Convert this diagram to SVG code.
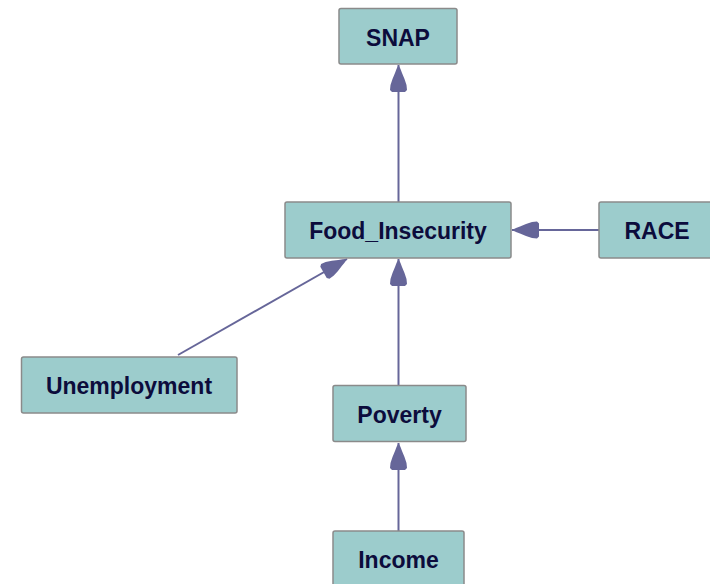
<svg xmlns="http://www.w3.org/2000/svg" width="710" height="584" viewBox="0 0 710 584">
<style>
.node rect{fill:#9ccccc;stroke:#8a8a8a;stroke-width:1.5}
.node text{font-family:"Liberation Sans",Arial,sans-serif;font-weight:bold;font-size:23px;fill:#0c0c3c;text-anchor:middle}
.edge{stroke:#666699;stroke-width:2;fill:none;marker-end:url(#arr)}
</style>
<defs>
<marker id="arr" viewBox="-30 -10 31 20" markerWidth="31" markerHeight="20" refX="0" refY="0" orient="auto" markerUnits="userSpaceOnUse">
<path d="M0,0 L-4,-2 L-8,-3.5 L-14,-6 L-20,-8 L-25,-8.5 L-27,-6.5 L-27,6.5 L-25,8.5 L-20,8 L-14,6 L-8,3.5 L-4,2 Z" fill="#666699"/>
</marker>
</defs>
<rect width="710" height="584" fill="#ffffff"/>
<g id="edges">
<line class="edge" x1="398.5" y1="202" x2="398.5" y2="65"/>
<line class="edge" x1="398.5" y1="385" x2="398.5" y2="259"/>
<line class="edge" x1="398.5" y1="531" x2="398.5" y2="443"/>
<line class="edge" x1="599" y1="230" x2="512" y2="230"/>
<line class="edge" x1="178" y1="355" x2="347" y2="259"/>
</g>
<g id="SNAP" class="node"><rect x="339" y="8.5" width="118" height="55.5" rx="2"/><text x="398" y="46">SNAP</text></g>
<g id="Food_Insecurity" class="node"><rect x="285" y="202" width="226" height="56" rx="2"/><text x="398" y="239">Food_Insecurity</text></g>
<g id="RACE" class="node"><rect x="599" y="202" width="116" height="56" rx="2"/><text x="657" y="239">RACE</text></g>
<g id="Unemployment" class="node"><rect x="21.5" y="357" width="215.5" height="56" rx="2"/><text x="129" y="394">Unemployment</text></g>
<g id="Poverty" class="node"><rect x="333" y="385.5" width="133" height="56" rx="2"/><text x="399.5" y="423">Poverty</text></g>
<g id="Income" class="node"><rect x="333" y="531" width="131" height="58" rx="2"/><text x="398.5" y="568">Income</text></g>
</svg>
